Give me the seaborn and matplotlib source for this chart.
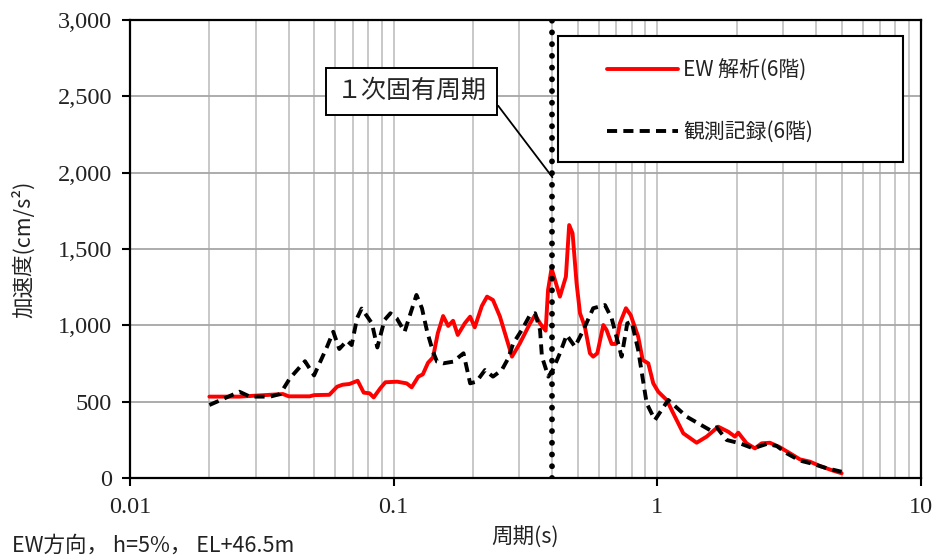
import numpy as np
import pandas as pd
import matplotlib
matplotlib.use("Agg")
import matplotlib.pyplot as plt
import matplotlib.ticker as mticker
from matplotlib.patches import Rectangle
import seaborn as sns

####################################################################
# data

ana_period = [0.020, 0.026, 0.038, 0.040, 0.048, 0.050, 0.057, 0.061, 0.064, 0.068,
              0.073, 0.077, 0.081, 0.084, 0.089, 0.093, 0.103, 0.112, 0.117, 0.124,
              0.129, 0.135, 0.141, 0.147, 0.154, 0.161, 0.168, 0.175, 0.186, 0.195,
              0.203, 0.216, 0.226, 0.238, 0.253, 0.269, 0.281, 0.301, 0.329, 0.344,
              0.359, 0.377, 0.385, 0.397, 0.427, 0.450, 0.463, 0.477, 0.494, 0.509,
              0.531, 0.555, 0.571, 0.592, 0.624, 0.642, 0.671, 0.697, 0.721, 0.760,
              0.792, 0.846, 0.880, 0.924, 0.965, 1.008, 1.085, 1.166, 1.254, 1.409,
              1.538, 1.702, 1.858, 1.970, 2.027, 2.181, 2.345, 2.486, 2.673, 2.918,
              3.184, 3.474, 3.791, 4.136, 4.646, 5.0]
ana_accel = [533, 533, 550, 535, 535, 543, 545, 598, 611, 616,
             637, 559, 555, 528, 588, 627, 631, 620, 594, 664,
             679, 755, 790, 948, 1061, 996, 1030, 937, 1013, 1057,
             987, 1127, 1188, 1166, 1057, 904, 795, 882, 1013, 1068,
             1013, 965, 1231, 1373, 1188, 1319, 1657, 1603, 1275, 1079,
             991, 817, 795, 817, 1002, 969, 878, 878, 1013, 1112,
             1068, 926, 773, 751, 620, 565, 511, 402, 293, 231,
             271, 336, 303, 271, 297, 227, 194, 227, 231, 201,
             162, 122, 107, 79, 48, 31]

obs_period = [0.020, 0.026, 0.0285, 0.034, 0.0371, 0.0404, 0.0461, 0.0499, 0.0559, 0.059,
              0.0622, 0.0665, 0.0693, 0.0726, 0.0756, 0.0792, 0.0827, 0.0867, 0.0923, 0.0972,
              0.1027, 0.110, 0.122, 0.128, 0.134, 0.141, 0.146, 0.154, 0.168, 0.184,
              0.195, 0.206, 0.222, 0.238, 0.257, 0.272, 0.284, 0.306, 0.329, 0.344,
              0.359, 0.365, 0.386, 0.401, 0.427, 0.453, 0.487, 0.524, 0.571, 0.633,
              0.671, 0.732, 0.769, 0.799, 0.846, 0.911, 0.979, 1.100, 1.291, 1.583,
              1.679, 1.832, 2.057, 2.310, 2.598, 2.835, 3.093, 3.474, 3.902, 4.385, 5.0]
obs_accel = [478, 565, 533, 533, 550, 653, 765, 672, 860, 958,
             845, 900, 871, 1046, 1110, 1060, 1013, 855, 1035, 1079,
             1046, 958, 1199, 1112, 958, 827, 762, 751, 762, 817,
             620, 631, 707, 664, 707, 784, 882, 969, 1068, 1079,
             969, 795, 664, 707, 817, 937, 860, 969, 1112, 1133,
             1046, 795, 1013, 1024, 838, 489, 380, 511, 402, 314,
             332, 249, 227, 194, 223, 210, 162, 114, 92, 64, 41]

natural_period = 0.4
y_ticks = [0, 500, 1000, 1500, 2000, 2500, 3000]
x_ticks = [0.01, 0.1, 1, 10]
x_tick_labels = ["0.01", "0.1", "1", "10"]

####################################################################

sns.set_style("white")
plt.rcParams["font.family"] = ["Noto Sans CJK JP", "DejaVu Sans"]

num_font = "Liberation Serif"

fig = plt.figure(figsize=(9.4, 5.59), dpi=100)
ax = fig.add_axes([0.1383, 0.1449, 0.8415, 0.8193])

ax.set_xscale("log")
ax.set_xlim(0.01, 10)
ax.set_ylim(0, 3000)

sns.lineplot(x=ana_period, y=ana_accel, ax=ax, color="#ff0000", lw=2.8,
             estimator=None, sort=False, label="EW 解析(6階)", zorder=3)
sns.lineplot(x=obs_period, y=obs_accel, ax=ax, color="black", lw=2.8,
             linestyle=(0, (2.6, 1.6)), estimator=None, sort=False,
             label="観測記録(6階)", zorder=3)

# 1st natural period marker
ax.axvline(natural_period, color="black", lw=4.2, linestyle=(0, (0.01, 2.0)),
           dash_capstyle="round", zorder=4)

ax.annotate("１次固有周期", xy=(natural_period, 1970), xytext=(0.1173, 2535),
            textcoords="data", ha="center", va="center", fontsize=18,
            bbox=dict(boxstyle="square,pad=0.42", fc="white", ec="black", lw=1.4),
            arrowprops=dict(arrowstyle="-", color="black", lw=1.3,
                            shrinkA=0, shrinkB=0, relpos=(1.0, 0.5)),
            zorder=6)

# grid
ax.set_yticks(y_ticks)
ax.yaxis.set_major_formatter(mticker.FuncFormatter(lambda v, p: f"{int(v):,}"))
ax.set_xticks(x_ticks)
ax.set_xticklabels(x_tick_labels)
ax.xaxis.set_minor_locator(mticker.LogLocator(base=10, subs=np.arange(2, 10)))
ax.xaxis.set_minor_formatter(mticker.NullFormatter())
ax.grid(True, which="major", axis="y", color="#a6a6a6", lw=1.3, zorder=0)
ax.grid(True, which="both", axis="x", color="#c4c4c4", lw=1.3, zorder=0)
ax.set_axisbelow(True)

ax.tick_params(axis="both", which="major", direction="out", length=6, width=1.5,
               color="black", left=True, bottom=True)
ax.tick_params(axis="y", pad=7)
ax.tick_params(axis="x", pad=8)
ax.tick_params(axis="x", which="minor", length=0)
for lab in ax.get_xticklabels() + ax.get_yticklabels():
    lab.set_fontfamily(num_font)
    lab.set_fontsize(17.5)
    lab.set_color("#222222")

for side in ["left", "bottom", "top", "right"]:
    ax.spines[side].set_visible(True)
    ax.spines[side].set_color("black")
    ax.spines[side].set_linewidth(1.6)

ax.set_xlabel("周期(s)", fontsize=15.5, color="#222222", labelpad=6)
ax.set_ylabel("加速度(cm/s²)", fontsize=15.5, color="#222222", labelpad=16)

# legend with a hand-sized frame
frame = Rectangle((0.541, 0.690), 0.436, 0.275, transform=ax.transAxes,
                  fc="white", ec="black", lw=1.5, zorder=7)
ax.add_patch(frame)
leg = ax.legend(loc="upper left", bbox_to_anchor=(0.603, 0.914), frameon=False,
                borderpad=0, borderaxespad=0, fontsize=15, handlelength=3.4,
                handletextpad=0.25, labelspacing=1.9)
leg.set_zorder(8)
for t in leg.get_texts():
    t.set_color("#222222")

fig.text(0.013, 0.005, "EW方向， h=5%， EL+46.5m", fontsize=15.5, color="#222222",
         ha="left", va="bottom")

fig.savefig("out.png", dpi=100)
